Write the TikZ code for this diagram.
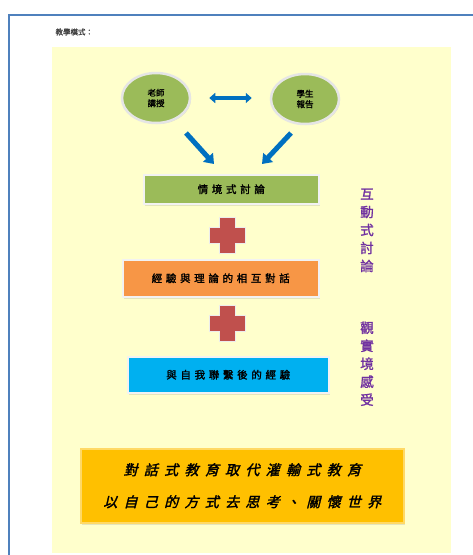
\documentclass[tikz,border=0pt]{standalone}
\usepackage{fontspec}
\usepackage{xcolor}
\usepackage{tikz}
\usetikzlibrary{positioning,shapes,shadows,arrows.meta}
\setmainfont{Noto Sans CJK TC}
\newfontfamily\cjk{Noto Sans CJK TC}
\newfontfamily\cjkbold[FakeBold=1.5]{Noto Sans CJK TC}
\newfontfamily\cjkwide[FakeBold=1.5,LetterSpace=35]{Noto Sans CJK TC}
\newfontfamily\cjkslant[FakeSlant=0.25,FakeBold=2,LetterSpace=45]{Noto Sans CJK TC}

\definecolor{frameblue}{HTML}{4F81BD}
\definecolor{paper}{HTML}{FFFFCC}
\definecolor{olive}{HTML}{9BBB59}
\definecolor{peach}{HTML}{F79646}
\definecolor{sky}{HTML}{00B0F0}
\definecolor{gold}{HTML}{FFC000}
\definecolor{cross}{HTML}{C0504D}
\definecolor{arrowblue}{HTML}{0070C0}
\definecolor{violet}{HTML}{7030A0}

\tikzstyle{bubble}=[ellipse, draw=white!80!gray, line width=2.5pt, fill=olive,
        minimum width=68pt, minimum height=50pt, align=center, inner sep=0pt,
        font=\cjkbold\fontsize{8.5}{10.5}\selectfont,
        drop shadow={shadow xshift=1pt, shadow yshift=-1pt, opacity=0.25}]
\tikzstyle{stage}=[rectangle, draw=white!90!gray, line width=1.5pt, anchor=north west,
        inner sep=0pt, font=\cjkwide\fontsize{10.5}{12}\selectfont,
        drop shadow={shadow xshift=1.5pt, shadow yshift=-2pt, opacity=0.2}]
\tikzstyle{push}=[draw=arrowblue, line width=5pt, -{Triangle[length=9pt,width=13pt]}]
\tikzstyle{side}=[text=violet, align=center, font=\cjkbold\fontsize{13.5}{18}\selectfont]

\begin{document}
\begin{tikzpicture}[x=1pt, y=-1pt]
        \useasboundingbox (0,0) rectangle (473,555);
        % page frame and background
        \fill[white] (0,0) rectangle (473,555);
        \draw[frameblue, line width=2pt] (9,560) -- (9,15) -- (480,15);
        \fill[paper] (52,47) rectangle (451,553);
        \node (Title) [anchor=west, font=\cjkbold\fontsize{7.5}{9}\selectfont, text=black!75] at (52,32) {教學模式：};

        % teacher and students
        \node (Teacher) [bubble] at (156,98) {老師\\講授};
        \node (Student) [bubble] at (305,99) {學生\\報告};
        \draw[draw=arrowblue, line width=4.5pt, {Triangle[length=6pt,width=10pt]}-{Triangle[length=6pt,width=10pt]}]
          (Teacher.east) ++(18,0) coordinate (ArrowL) -- ([xshift=-18pt]Student.west |- ArrowL) coordinate (ArrowR);
        \coordinate (LeftTail) at (186,133);
        \coordinate (LeftHead) at (214,164);
        \coordinate (RightTail) at (291,133);
        \coordinate (RightHead) at (262,164);
        \draw[push] (LeftTail) -- (LeftHead);
        \draw[push] (RightTail) -- (RightHead);

        % three stages
        \node (Discuss) [stage, fill=olive, minimum width=175pt, minimum height=29pt] at (143,174) {情境式討論};
        \node (Dialog) [stage, fill=peach, minimum width=196pt, minimum height=37pt] at (122,259) {經驗與理論的相互對話};
        \node (Self) [stage, fill=sky, minimum width=201pt, minimum height=36pt] at (127,356) {與自我聯繫後的經驗};
        \foreach \name/\y in {PlusA/235, PlusB/323} {
          \fill[cross, draw=white!85!gray, line width=1pt]
            (227,\y) ++(-8,-18) -- ++(16,0) -- ++(0,10) -- ++(10,0) -- ++(0,16) -- ++(-10,0)
            -- ++(0,10) -- ++(-16,0) -- ++(0,-10) -- ++(-10,0) -- ++(0,-16) -- ++(10,0) -- cycle;
          \coordinate (\name) at (227,\y);
        }

        % side notes
        \node (Interact) [side, anchor=north] at (367,185) {互\\動\\式\\討\\論};
        \node (Feel) [side, anchor=north] at (367,318) {觀\\實\\境\\感\\受};

        % closing message
        \node (Message) [stage, fill=gold, draw=gold!60!white, minimum width=323pt, minimum height=74pt,
          align=center, font=\cjkslant\fontsize{14}{32}\selectfont, drop shadow={opacity=0}] at (80,448)
          {對話式教育取代灌輸式教育\\以自己的方式去思考、關懷世界};
      \end{tikzpicture}
\end{document}
